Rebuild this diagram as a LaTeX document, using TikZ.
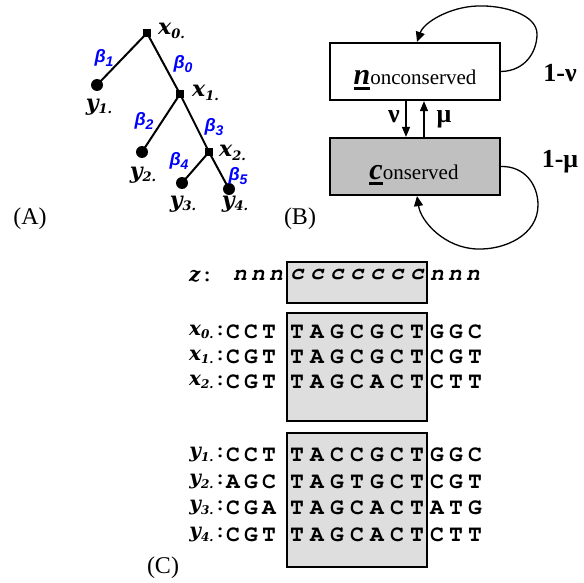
\documentclass[tikz,border=0pt]{standalone}
\usepackage{fontspec}
\setmainfont{Liberation Serif}
\newfontfamily\labfont{DejaVu Serif}
\newfontfamily\betafont{Liberation Sans}
\newfontfamily\seqfont{TeX Gyre Cursor}
\usetikzlibrary{arrows.meta}
\definecolor{betablue}{RGB}{0,0,255}
\definecolor{boxgray}{RGB}{192,192,192}
\definecolor{seqgray}{RGB}{222,222,222}
\newcommand\tlab[2]{{\labfont\bfseries\itshape\fontsize{22}{22}\selectfont #1\raisebox{-0.3ex}{\fontsize{13}{13}\selectfont #2.}}}
\newcommand\slab[2]{{\labfont\bfseries\itshape\fontsize{20}{20}\selectfont #1\raisebox{-0.3ex}{\fontsize{12}{12}\selectfont #2.}}}
\newcommand\blab[1]{{\betafont\bfseries\itshape\fontsize{18}{18}\selectfont β\raisebox{-0.4ex}{\fontsize{14}{14}\selectfont #1}}}
\newcommand\thickul[1]{\setbox0\hbox{#1}\rlap{\rule[-5pt]{\wd0}{3pt}}\box0}
\newcommand\seqrow[6]{%
  \node[anchor=east,inner sep=0pt] (#1lab) at (227,#2) {\slab{#3}{#4}{\seqfont\bfseries\fontsize{22}{22}\selectfont:}};
  \foreach \c [count=\i] in {#5} {\node[seqch] (#1p\i) at ({233+18*(\i-1)},#2) {\c};}
  \foreach \c [count=\i] in {#6} {\node[seqch] (#1m\i) at ({297+20*(\i-1)},#2) {\c};}
}
\newcommand\seqtail[3]{%
  \foreach \c [count=\i] in {#3} {\node[seqch] (#1s\i) at ({437+19*(\i-1)},#2) {\c};}
}
\tikzset{
  sq/.style={rectangle,fill=black,minimum size=8pt,inner sep=0pt},
  dot/.style={circle,fill=black,minimum size=12pt,inner sep=0pt},
  edge/.style={line width=2pt},
  blbl/.style={text=betablue,inner sep=0pt},
  tl/.style={inner sep=0pt},
  panel/.style={font=\fontsize{24}{24}\selectfont,inner sep=0pt},
  state/.style={draw,line width=2.2pt,minimum width=170pt,minimum height=57pt,inner sep=0pt},
  stxt/.style={anchor=base,inner sep=0pt},
  arr/.style={line width=1.4pt,-{Triangle[length=10pt,width=8pt]}},
  loop/.style={line width=1.3pt,-{Triangle[length=10pt,width=9pt]}},
  rate/.style={font=\bfseries\fontsize{26}{26}\selectfont,inner sep=0pt},
  seqch/.style={font=\seqfont\bfseries\fontsize{23}{23}\selectfont,inner sep=0pt},
  zch/.style={font=\seqfont\bfseries\itshape\fontsize{23}{23}\selectfont,inner sep=0pt},
  seqbox/.style={draw,fill=seqgray,line width=1.5pt}
}
\begin{document}
\begin{tikzpicture}[x=1pt,y=-1pt]
\useasboundingbox (0,0) rectangle (584,583);
% ---------- (A) tree
\node[sq] (x0) at (147,33) {};
\node[sq] (x1) at (180,94) {};
\node[sq] (x2) at (209,152) {};
\node[dot] (y1) at (97,85) {};
\node[dot] (y2) at (142,152) {};
\node[dot] (y3) at (182,183) {};
\node[dot] (y4) at (229,189) {};
\draw[edge] (x0.center) -- (y1.center);
\draw[edge] (x0.center) -- (x1.center);
\draw[edge] (x1.center) -- (y2.center);
\draw[edge] (x1.center) -- (x2.center);
\draw[edge] (x2.center) -- (y3.center);
\draw[edge] (x2.center) -- (y4.center);
\node[tl,anchor=west] (lx0) at (158,31) {\tlab{x}{0}};
\node[tl,anchor=west] (lx1) at (192,93) {\tlab{x}{1}};
\node[tl,anchor=west] (lx2) at (219,153) {\tlab{x}{2}};
\node[tl] (ly1) at (99,107) {\tlab{y}{1}};
\node[tl] (ly2) at (143,175) {\tlab{y}{2}};
\node[tl] (ly3) at (183,204) {\tlab{y}{3}};
\node[tl] (ly4) at (235,204) {\tlab{y}{4}};
\node[blbl] (b1) at (104,58) {\blab{1}};
\node[blbl] (b0) at (183,64) {\blab{0}};
\node[blbl] (b2) at (144,121) {\blab{2}};
\node[blbl] (b3) at (214,127) {\blab{3}};
\node[blbl] (b4) at (179,161) {\blab{4}};
\node[blbl] (b5) at (238,176) {\blab{5}};
\node[panel] (pA) at (30,219) {(A)};
% ---------- (B) two-state model
\node[state,fill=white] (nc) at (415,71.5) {};
\node[state,fill=boxgray] (cs) at (415,166.5) {};
\node[stxt] (nctxt) at (415,85) {\thickul{\textbf{\textit{\fontsize{30}{30}\selectfont n}}}{\fontsize{21}{21}\selectfont onconserved}};
\node[stxt] (cstxt) at (414,180) {\thickul{\textbf{\textit{\fontsize{30}{30}\selectfont c}}}{\fontsize{21}{21}\selectfont onserved}};
\draw[arr] ([xshift=-9pt]nc.south) -- ([xshift=-9pt]cs.north);
\draw[arr] ([xshift=9pt]cs.north) -- ([xshift=9pt]nc.south);
\node[rate] (nu) at (394,117) {ν};
\node[rate] (mu) at (444,119) {μ};
\coordinate (ntop) at ([xshift=2pt]nc.north);
\coordinate (cbot) at ([xshift=2pt]cs.south);
\draw[loop] (nc.east) .. controls (525,71) and (537,52) .. (537,34)
  .. controls (537,15) and (505,5) .. (477,6)
  .. controls (450,7) and (424,22) .. (ntop);
\draw[loop] (cs.east) .. controls (525,166) and (538,185) .. (538,205)
  .. controls (538,235) and (505,250) .. (477,249)
  .. controls (445,248) and (421,222) .. (cbot);
\node[rate] (r1) at (560,73) {1-ν};
\node[rate] (r2) at (560,162) {1-μ};
\node[panel] (pB) at (300,219) {(B)};
% ---------- (C) alignment
\draw[seqbox] (287,262) rectangle (427,303);
\draw[seqbox] (287,313) rectangle (427,421);
\draw[seqbox] (287,433) rectangle (427,567);
\node[anchor=east,inner sep=0pt] (zlab) at (214,276) {{\labfont\bfseries\itshape\fontsize{20}{20}\selectfont z}{\seqfont\bfseries\fontsize{22}{22}\selectfont:}};
\foreach \i/\x in {1/240,2/258,3/276} {\node[zch] (zp\i) at (\x,275) {n};}
\foreach \i in {1,...,7} {\node[zch] (zm\i) at ({297+20*(\i-1)},275) {c};}
\foreach \i/\x in {1/437,2/455,3/473} {\node[zch] (zs\i) at (\x,275) {n};}
\seqrow{xa}{332}{x}{0}{C,C,T}{T,A,G,C,G,C,T}\seqtail{xa}{332}{G,G,C}
\seqrow{xb}{357}{x}{1}{C,G,T}{T,A,G,C,G,C,T}\seqtail{xb}{357}{C,G,T}
\seqrow{xc}{382}{x}{2}{C,G,T}{T,A,G,C,A,C,T}\seqtail{xc}{382}{C,T,T}
\seqrow{ya}{455}{y}{1}{C,C,T}{T,A,C,C,G,C,T}\seqtail{ya}{455}{G,G,C}
\seqrow{yb}{482}{y}{2}{A,G,C}{T,A,G,T,G,C,T}\seqtail{yb}{482}{C,G,T}
\seqrow{yc}{508}{y}{3}{C,G,A}{T,A,G,C,A,C,T}\seqtail{yc}{508}{A,T,G}
\seqrow{yd}{535}{y}{4}{C,G,T}{T,A,G,C,A,C,T}\seqtail{yd}{535}{C,T,T}
\node[panel] (pC) at (163,568) {(C)};
\end{tikzpicture}
\end{document}
